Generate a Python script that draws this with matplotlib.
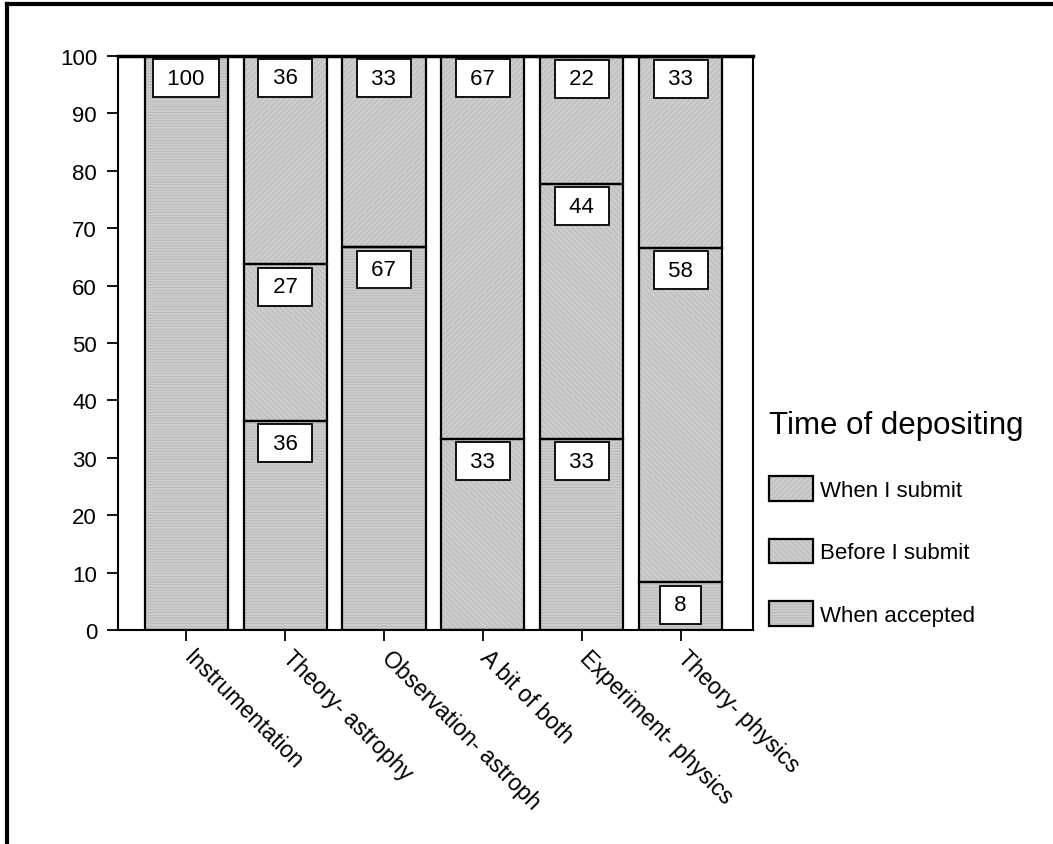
import matplotlib.pyplot as plt
import matplotlib.transforms as mtransforms
from matplotlib.lines import Line2D
from matplotlib.legend_handler import HandlerTuple
import numpy as np

plt.rcParams['font.family'] = ['Liberation Sans', 'DejaVu Sans']
plt.rcParams['hatch.linewidth'] = 0.6

categories = ['Instrumentation', 'Theory- astrophy', 'Observation- astroph',
              'A bit of both', 'Experiment- physics', 'Theory- physics']
when_accepted = [100, 36.4, 66.7, 0, 33.3, 8.3]
before_submit = [0, 27.3, 0, 33.3, 44.4, 58.3]
when_submit = [0, 36.4, 33.3, 66.7, 22.2, 33.3]
series_names = ['When accepted', 'Before I submit', 'When I submit']
hatches = ['------', '\\\\\\\\\\\\', '//////']

fill = '#cdcdcd'
hatch_col = '#b6b6b6'

fig = plt.figure(figsize=(10.53, 8.45), dpi=100)
ax = fig.add_axes([0.112, 0.2533, 0.603, 0.6792])

x = np.arange(len(categories))
width = 0.84
bottom = np.zeros(len(categories))
handles = []
for vals, name, h in zip([when_accepted, before_submit, when_submit], series_names, hatches):
    vals = np.array(vals, dtype=float)
    b1 = ax.bar(x, vals, width, bottom=bottom, color=fill, edgecolor=hatch_col,
                hatch=h, linewidth=0, zorder=2)
    b2 = ax.bar(x, vals, width, bottom=bottom, facecolor='none', edgecolor='black',
                linewidth=1.6, zorder=3)
    handles.append((b1[0], b2[0]))
    # value labels just below top of each segment
    for xi, v, bt in zip(x, vals, bottom):
        if v <= 0:
            continue
        ax.text(xi, bt + v - 3.9, f' {v:.0f} ', ha='center', va='center',
                fontsize=16, zorder=5,
                bbox=dict(boxstyle='square,pad=0.38', facecolor='white',
                          edgecolor='black', linewidth=1.3))
    bottom += vals

ax.set_xlim(-0.69, 5.73)
ax.set_ylim(0, 100)
ax.set_yticks(range(0, 101, 10))
ax.set_xticks(x)
ax.set_xticklabels(categories, rotation=-45, ha='left', va='top',
                   rotation_mode='anchor', fontsize=16.5)
ax.tick_params(axis='y', labelsize=16, length=8, width=1.3, pad=7)
ax.tick_params(axis='x', length=8, width=1.3, pad=6)
shift = mtransforms.ScaledTranslation(9 / 100, 4 / 100, fig.dpi_scale_trans)
for lab in ax.get_xticklabels():
    lab.set_transform(lab.get_transform() + shift)
for s in ax.spines.values():
    s.set_linewidth(1.5)
ax.spines['top'].set_linewidth(2.5)

leg = ax.legend(handles[::-1], series_names[::-1],
                handler_map={tuple: HandlerTuple(ndivide=1, pad=0)},
                loc='upper left', bbox_to_anchor=(0.730, 0.514),
                bbox_transform=fig.transFigure, frameon=False,
                fontsize=16, title='Time of depositing', title_fontsize=22.5,
                handlelength=2.0, handleheight=1.35, labelspacing=1.7,
                handletextpad=0.3, borderaxespad=0, borderpad=0)
leg._legend_box.align = 'left'
leg._legend_box.sep = 26

# outer frame (left and top edges)
fig.add_artist(Line2D([0.0066, 0.0066], [0, 0.994], color='black', lw=3,
                      transform=fig.transFigure))
fig.add_artist(Line2D([0.0066, 1.0], [0.994, 0.994], color='black', lw=3,
                      transform=fig.transFigure))

fig.savefig('out.png', dpi=100)
